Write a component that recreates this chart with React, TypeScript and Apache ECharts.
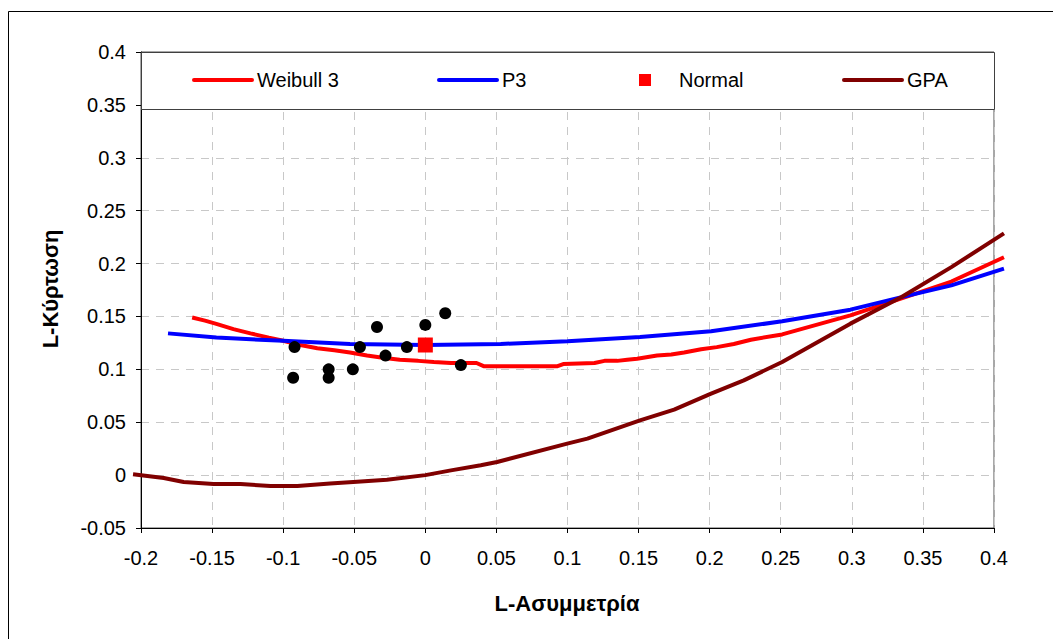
import React, { useEffect, useRef } from "react";
import * as echarts from "echarts";

// Sample points (L-skewness, L-kurtosis)
const sampleSkew = [-0.092, -0.093, -0.068, -0.068, -0.051, -0.046, -0.034, -0.028, -0.013, 0.0, 0.014, 0.025];
const sampleKurt = [0.121, 0.092, 0.1, 0.092, 0.1, 0.121, 0.14, 0.113, 0.121, 0.142, 0.153, 0.104];

// Normal distribution point
const normalPoint = [0, 0.123];

// Weibull 3 curve
const weibullSkew = [-0.164, -0.155, -0.147, -0.135, -0.123, -0.11, -0.1, -0.088, -0.076, -0.064, -0.053, -0.041, -0.03, -0.018, -0.005, 0.006, 0.018, 0.036, 0.041, 0.093, 0.097, 0.119, 0.126, 0.135, 0.142, 0.149, 0.163, 0.173, 0.182, 0.194, 0.205, 0.217, 0.229, 0.251, 0.275, 0.299, 0.335, 0.37, 0.407];
const weibullKurt = [0.149, 0.146, 0.143, 0.138, 0.134, 0.13, 0.127, 0.123, 0.12, 0.118, 0.116, 0.113, 0.111, 0.109, 0.108, 0.107, 0.106, 0.106, 0.103, 0.103, 0.105, 0.106, 0.108, 0.108, 0.109, 0.11, 0.113, 0.114, 0.116, 0.119, 0.121, 0.124, 0.128, 0.133, 0.142, 0.151, 0.167, 0.183, 0.206];

// P3 curve
const p3Skew = [-0.181, -0.147, -0.1, -0.053, 0, 0.053, 0.1, 0.151, 0.201, 0.251, 0.299, 0.335, 0.37, 0.407];
const p3Kurt = [0.134, 0.13, 0.127, 0.124, 0.123, 0.124, 0.1265, 0.1305, 0.136, 0.1454, 0.1564, 0.1683, 0.1794, 0.1952];

// GPA curve
const gpaSkew = [-0.2056, -0.184, -0.17, -0.149, -0.13, -0.109, -0.09, -0.067, -0.048, -0.027, 0, 0.018, 0.039, 0.0505, 0.0998, 0.114, 0.151, 0.175, 0.201, 0.224, 0.251, 0.299, 0.335, 0.37, 0.407];
const gpaKurt = [0.0008, -0.0027, -0.0065, -0.0084, -0.0084, -0.0103, -0.0103, -0.008, -0.0062, -0.0043, 0, 0.0045, 0.0093, 0.0124, 0.0298, 0.0345, 0.0518, 0.0619, 0.077, 0.0896, 0.1069, 0.1432, 0.1683, 0.1966, 0.2285];

const seriesNames = ["Weibull 3", "P3", "Normal", "GPA"];
const legendLefts = [192, 437, 639, 842];

const xTitle = "L-Ασυμμετρία";
const yTitle = "L-Κύρτωση";

const FONT = "'Liberation Sans', Arial, sans-serif";

const zip = (a: number[], b: number[]) => a.map((v, i) => [v, b[i]]);
const fmt = (v: number) => String(parseFloat(v.toFixed(2)));

export default function App() {
  const ref = useRef<HTMLDivElement>(null);
  useEffect(() => {
    if (!ref.current) return;
    const chart = echarts.init(ref.current, undefined, { renderer: "svg" });
    const W = 1053;
    const gridL = 141, gridT = 52, gridR = 59, gridB = 111;
    const xMin = -0.2, xMax = 0.4;
    // overflow grid: same scale, wider range so curves may run past the plot edges
    const pxPerUnit = (W - gridL - gridR) / (xMax - xMin);
    const ext = 0.01;
    const extPx = ext * pxPerUnit;
    const lineCommon = {
      type: "line", showSymbol: false, symbol: "none", clip: false, smooth: false, z: 3,
      xAxisIndex: 1, yAxisIndex: 1,
    };
    chart.setOption({
      animation: false,
      backgroundColor: "#ffffff",
      grid: [
        {
          left: gridL, top: gridT, right: gridR, bottom: gridB,
          show: true, borderColor: "#505050", borderWidth: 1, backgroundColor: "transparent",
        },
        {
          left: gridL - extPx, top: gridT, right: gridR - extPx, bottom: gridB, show: false,
        },
      ],
      xAxis: [
        {
          type: "value", min: xMin, max: xMax, interval: 0.05, gridIndex: 0,
          axisLine: { show: true, onZero: false, lineStyle: { color: "#000", width: 1 } },
          axisTick: { show: true, length: 5, lineStyle: { color: "#000" } },
          axisLabel: { color: "#000", fontSize: 20, fontFamily: FONT, margin: 20, formatter: (v: number) => fmt(v) },
          splitLine: { show: true, lineStyle: { color: "#c8c8c8", type: [8, 7], width: 1 } },
        },
        { type: "value", min: xMin - ext, max: xMax + ext, gridIndex: 1, show: false, splitLine: { show: false } },
      ],
      yAxis: [
        {
          type: "value", min: -0.05, max: 0.4, interval: 0.05, gridIndex: 0,
          axisLine: { show: true, onZero: false, lineStyle: { color: "#000", width: 1 } },
          axisTick: { show: true, length: 5, lineStyle: { color: "#000" } },
          axisLabel: { color: "#000", fontSize: 20, fontFamily: FONT, margin: 15, formatter: (v: number) => fmt(v) },
          splitLine: { show: true, lineStyle: { color: "#c8c8c8", type: [8, 7], width: 1 } },
        },
        { type: "value", min: -0.05, max: 0.4, gridIndex: 1, show: false, splitLine: { show: false } },
      ],
      legend: seriesNames.map((n, i) => ({
        data: [n === "Normal" ? { name: n, icon: "path://M0,0H10V10H0Z" } : n],
        left: legendLefts[i],
        top: 70,
        padding: 0,
        itemWidth: 58,
        itemHeight: 12,
        itemGap: 0,
        z: 10,
        selectedMode: false,
        itemStyle: n === "Normal" ? { opacity: 1 } : { opacity: 0 },
        lineStyle: { width: 4, cap: "round" },
        textStyle: { color: "#000", fontSize: 20, fontFamily: FONT },
      })),
      graphic: [
        {
          type: "rect", z: 5,
          shape: { x: gridL + 0.5, y: gridT + 0.5, width: W - gridR - gridL, height: 57 },
          style: { fill: "#ffffff", stroke: "#404040", lineWidth: 1 },
        },
        {
          type: "rect", z: 0,
          shape: { x: 8.5, y: 11.5, width: 1100, height: 700 },
          style: { fill: "transparent", stroke: "#000", lineWidth: 1 },
        },
        {
          type: "text", z: 10, x: 567, y: 603,
          style: { text: xTitle, fontSize: 22, fontWeight: "bold", fontFamily: FONT, fill: "#000", textAlign: "center", textVerticalAlign: "middle" },
        },
        {
          type: "text", z: 10, x: 50, y: 289, rotation: Math.PI / 2,
          style: { text: yTitle, fontSize: 22, fontWeight: "bold", fontFamily: FONT, fill: "#000", textAlign: "center", textVerticalAlign: "middle" },
        },
      ],
      series: [
        { ...lineCommon, name: "Weibull 3", data: zip(weibullSkew, weibullKurt), lineStyle: { color: "#ff0000", width: 4 }, itemStyle: { color: "#ff0000" } },
        { ...lineCommon, name: "P3", data: zip(p3Skew, p3Kurt), lineStyle: { color: "#0000ff", width: 4 }, itemStyle: { color: "#0000ff" } },
        { ...lineCommon, name: "GPA", data: zip(gpaSkew, gpaKurt), lineStyle: { color: "#800000", width: 4 }, itemStyle: { color: "#800000" } },
        {
          type: "scatter", name: "Δείγμα", data: zip(sampleSkew, sampleKurt), symbol: "circle", symbolSize: 12, z: 4,
          itemStyle: { color: "#000000", opacity: 1 },
        },
        {
          type: "scatter", name: "Normal", data: [normalPoint], symbol: "rect", symbolSize: 15, z: 5,
          itemStyle: { color: "#ff0000", opacity: 1 },
        },
      ],
    });
    return () => chart.dispose();
  }, []);
  return (
    <div
      ref={ref}
      style={{ position: "absolute", left: 0, top: 0, width: 1053, height: 639, background: "#fff" }}
    />
  );
}
